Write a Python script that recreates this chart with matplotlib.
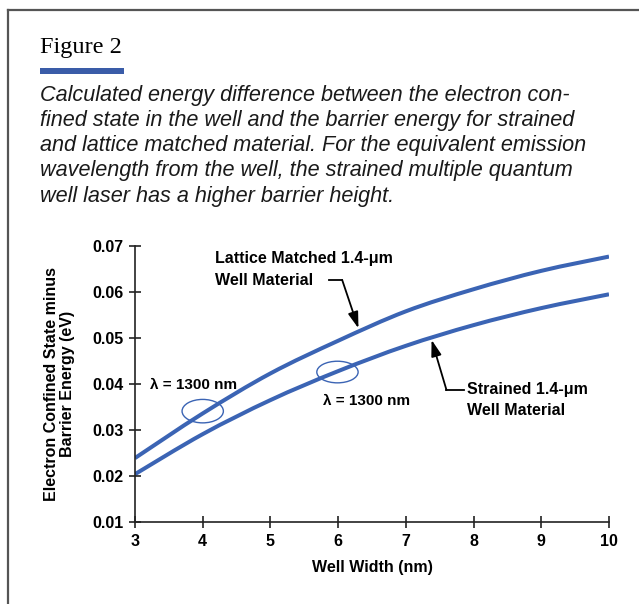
import matplotlib
matplotlib.use("Agg")
import matplotlib.pyplot as plt
from matplotlib.lines import Line2D
from matplotlib.patches import Ellipse, Rectangle, PathPatch
from matplotlib.path import Path

# data
well_width = [3, 4, 5, 6, 7, 8, 9, 10]
lattice_matched = [0.0239, 0.0336, 0.0423, 0.0494, 0.0558, 0.0606, 0.0646, 0.0677]
strained = [0.0204, 0.0291, 0.0365, 0.0428, 0.0483, 0.0528, 0.0565, 0.0595]
x_ticks = [3, 4, 5, 6, 7, 8, 9, 10]
y_ticks = [0.01, 0.02, 0.03, 0.04, 0.05, 0.06, 0.07]

blue = '#3b64b4'
plt.rcParams['font.family'] = ['Liberation Sans', 'DejaVu Sans']


def smooth_path(xs, ys):
    # cubic bezier segments through the read points (catmull-rom tangents)
    verts = [(xs[0], ys[0])]
    codes = [Path.MOVETO]
    n = len(xs)
    for i in range(n - 1):
        x0, y0 = (xs[i - 1], ys[i - 1]) if i > 0 else (xs[i], ys[i])
        x3, y3 = (xs[i + 2], ys[i + 2]) if i + 2 < n else (xs[i + 1], ys[i + 1])
        x1, y1 = xs[i], ys[i]
        x2, y2 = xs[i + 1], ys[i + 1]
        c1 = (x1 + (x2 - x0) / 6, y1 + (y2 - y0) / 6)
        c2 = (x2 - (x3 - x1) / 6, y2 - (y3 - y1) / 6)
        verts += [c1, c2, (x2, y2)]
        codes += [Path.CURVE4] * 3
    return Path(verts, codes)


fig = plt.figure(figsize=(6.39, 6.04), dpi=100)

# frame lines of the figure box
fig.add_artist(Line2D([8/639, 1], [1 - 10/604, 1 - 10/604], color='#555555', lw=1.6))
fig.add_artist(Line2D([8/639, 8/639], [0, 1 - 10/604], color='#555555', lw=1.6))

# title and caption
fig.text(40/639, 1 - 47/604, 'Figure 2', family='Liberation Serif', fontsize=17.5, va='center')
fig.add_artist(Rectangle((40/639, 1 - 74/604), 84/639, 6/604, color='#3a5ca8', lw=0))
caption = ['Calculated energy difference between the electron con-',
           'fined state in the well and the barrier energy for strained',
           'and lattice matched material. For the equivalent emission',
           'wavelength from the well, the strained multiple quantum',
           'well laser has a higher barrier height.']
for i, line in enumerate(caption):
    fig.text(40/639, 1 - (95 + 25.3 * i)/604, line, style='italic', fontsize=15.6,
             va='center', color='#1a1a1a')

ax = fig.add_axes([135/639, 82/604, 474/639, 276/604])
for series in (lattice_matched, strained):
    ax.add_patch(PathPatch(smooth_path(well_width, series), fill=False,
                           ec=blue, lw=2.9, capstyle='butt'))
ax.set_xlim(3, 10)
ax.set_ylim(0.01, 0.07)
ax.set_xticks(x_ticks)
ax.set_yticks(y_ticks)
ax.set_yticklabels([f'{v:.2f}' for v in y_ticks])
for s in ['top', 'right']:
    ax.spines[s].set_visible(False)
for s in ['left', 'bottom']:
    ax.spines[s].set_linewidth(1.2)
    ax.spines[s].set_color('#222222')
ax.tick_params(direction='inout', length=9, width=1.2, color='#222222',
               labelsize=11.5, pad=4)
for lab in ax.get_xticklabels() + ax.get_yticklabels():
    lab.set_fontweight('bold')
ax.set_xlabel('Well Width (nm)', fontsize=11.5, fontweight='bold', labelpad=8)
ax.set_ylabel('Electron Confined State minus\nBarrier Energy (eV)', fontsize=11.5,
              fontweight='bold', labelpad=12, linespacing=1.1)

# annotations
ax.add_patch(Ellipse((4.0, 0.0341), 0.61, 0.0051, fill=False, ec=blue, lw=1.0))
ax.add_patch(Ellipse((5.99, 0.0426), 0.61, 0.0047, fill=False, ec=blue, lw=1.0))
ax.text(3.22, 0.0398, 'λ = 1300 nm', fontsize=11, fontweight='bold', va='center')
ax.text(5.78, 0.0362, 'λ = 1300 nm', fontsize=11, fontweight='bold', va='center')
ax.text(4.18, 0.0673, 'Lattice Matched 1.4-μm', fontsize=11.5, fontweight='bold', va='center')
ax.text(4.18, 0.0626, 'Well Material', fontsize=11.5, fontweight='bold', va='center')
ax.text(7.9, 0.0387, 'Strained 1.4-μm', fontsize=11.5, fontweight='bold', va='center')
ax.text(7.9, 0.0342, 'Well Material', fontsize=11.5, fontweight='bold', va='center')

arrow = dict(arrowstyle='-|>,head_length=0.7,head_width=0.22', color='black', lw=1.3,
             mutation_scale=14, shrinkA=0, shrinkB=0)
ax.plot([5.86, 6.06], [0.0626, 0.0626], color='black', lw=1.3)
ax.annotate('', xy=(6.3, 0.0521), xytext=(6.06, 0.0626), arrowprops=arrow)
ax.plot([7.86, 7.60], [0.0387, 0.0387], color='black', lw=1.3)
ax.annotate('', xy=(7.38, 0.0496), xytext=(7.60, 0.0387), arrowprops=arrow)

fig.savefig('out.png', dpi=100)
